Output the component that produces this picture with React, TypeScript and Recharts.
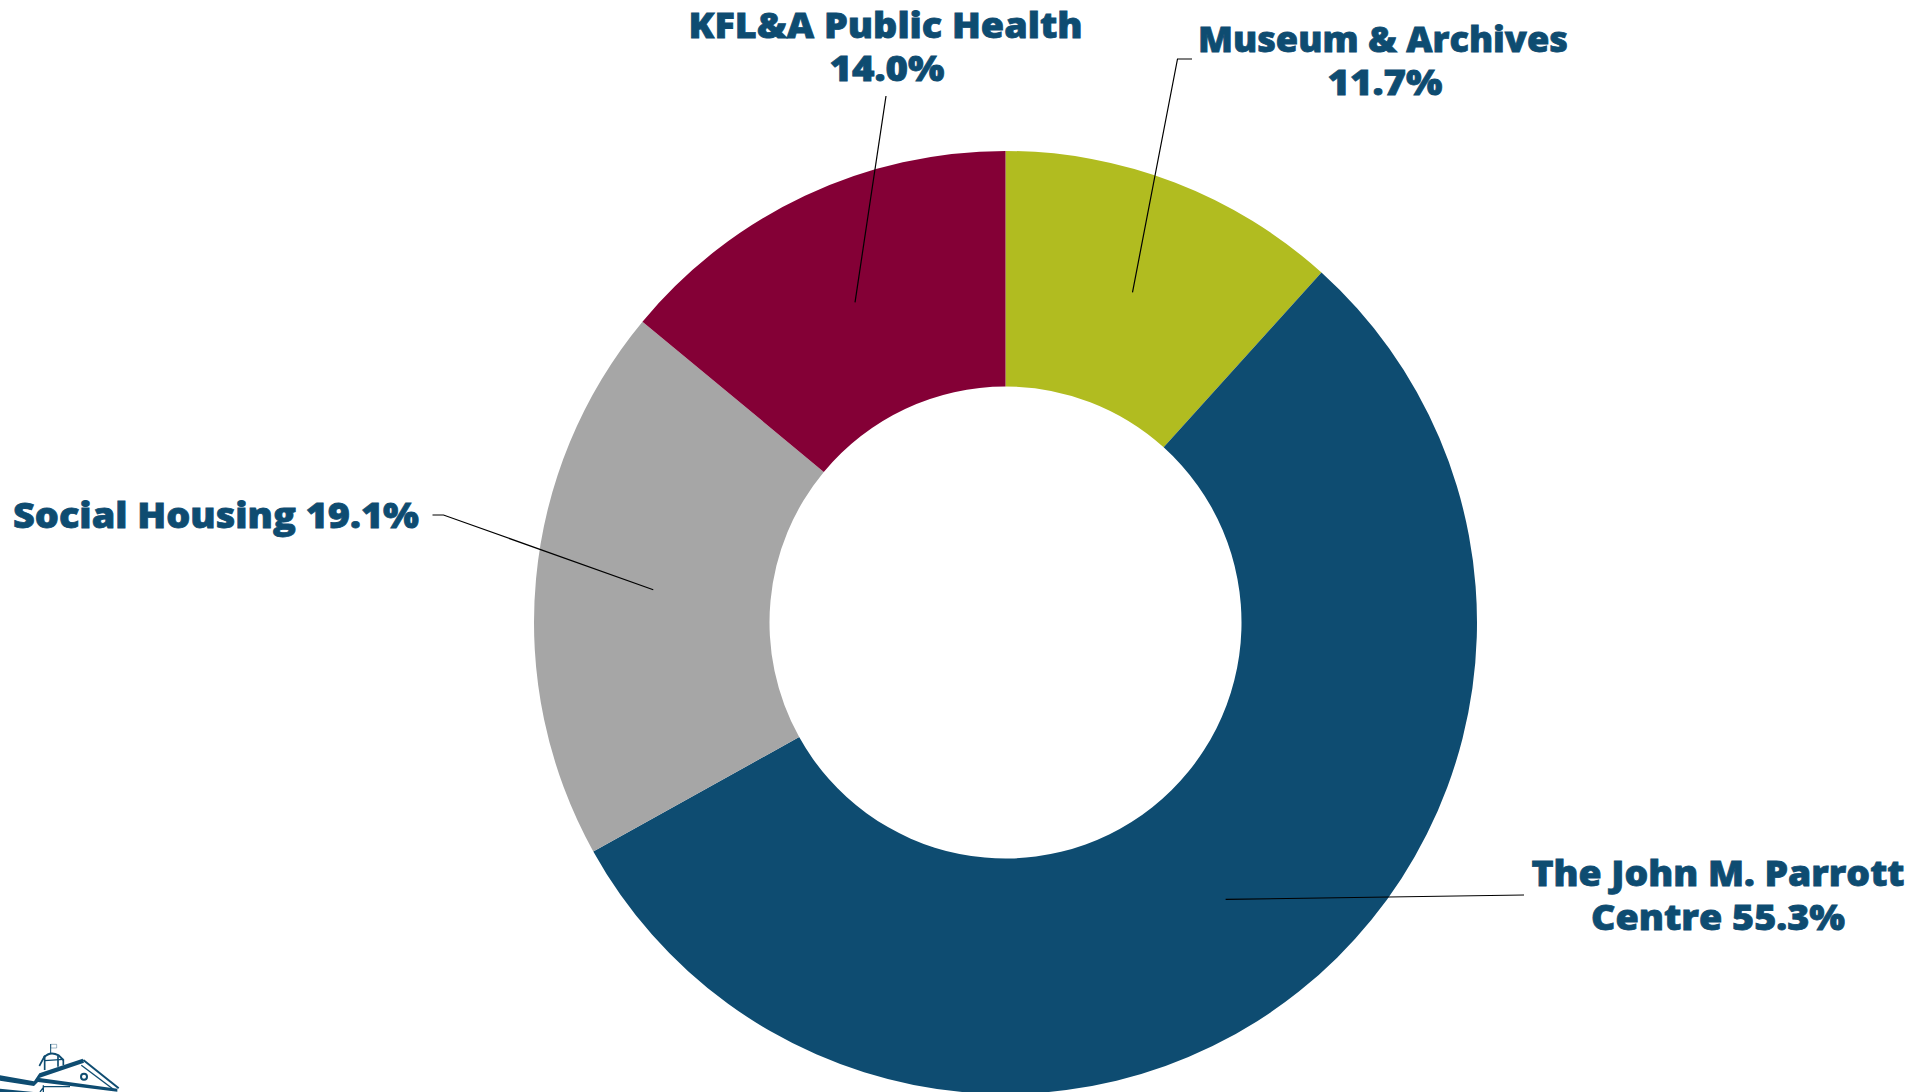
import React from 'react';
import { PieChart, Pie, Cell } from 'recharts';

const categories = ['Museum & Archives', 'The John M. Parrott Centre', 'Social Housing', 'KFL&A Public Health'];
const shares = [11.7, 55.3, 19.1, 14.0];
const colors = ['#B1BC20', '#0E4C71', '#A6A6A6', '#840036'];

const chartData = categories.map((name, i) => ({ name, value: shares[i] }));

const TEXT_COLOR = '#0E4C71';
const FONT = '"Open Sans", sans-serif';

// label text lines and leader routes, one per slice
// width = measured line width in the original, the font here runs a bit narrower
const labelLayouts = [
  {
    lines: [
      { text: 'Museum & Archives', x: 1383, y: 52, width: 370 },
      { text: '11.7%', x: 1385, y: 95, width: 115 },
    ],
    route: [[1177.5, 59], [1192, 59]],
  },
  {
    lines: [
      { text: 'The John M. Parrott', x: 1718, y: 886, width: 373 },
      { text: 'Centre 55.3%', x: 1718, y: 930, width: 254 },
    ],
    route: [[1524, 895]],
  },
  {
    lines: [{ text: 'Social Housing 19.1%', x: 216, y: 528, width: 406 }],
    route: [[443.5, 515], [432.5, 515]],
  },
  {
    lines: [
      { text: 'KFL&A Public Health', x: 885.5, y: 38, width: 394 },
      { text: '14.0%', x: 887, y: 81, width: 115 },
    ],
    route: [[886, 96]],
  },
];

const renderLabel = ({ cx, cy, midAngle, innerRadius, outerRadius, index }: any) => {
  const layout = labelLayouts[index];
  const r = (innerRadius + outerRadius) / 2;
  const rad = (midAngle * Math.PI) / 180;
  const start = [cx + r * Math.cos(rad), cy - r * Math.sin(rad)];
  const points = [start, ...layout.route].map((p) => p.join(',')).join(' ');
  return (
    <g key={index}>
      <polyline points={points} fill="none" stroke="#000" strokeWidth={1.2} />
      <text
        textAnchor="middle"
        fill={TEXT_COLOR}
        stroke={TEXT_COLOR}
        strokeWidth={0.8}
        style={{ fontFamily: FONT, fontWeight: 800, fontSize: 36 }}
      >
        {layout.lines.map((line) => (
          <tspan
            key={line.text}
            x={line.x}
            y={line.y}
            textLength={line.width}
            lengthAdjust="spacingAndGlyphs"
          >
            {line.text}
          </tspan>
        ))}
      </text>
    </g>
  );
};

// small city hall emblem in the bottom left corner
const Emblem = () => (
  <svg
    width={150}
    height={72}
    viewBox="0 0 450 216"
    style={{ position: 'absolute', left: 0, top: 1020 }}
  >
    <g fill="none" stroke={TEXT_COLOR} strokeLinejoin="round">
      <path d="M152 72 V100" strokeWidth={3} />
      <path d="M152 73 H170 V84 H152 Z" strokeWidth={2} opacity={0.6} />
      <path d="M132 112 Q150 92 176 106 L190 120" strokeWidth={6} />
      <path d="M118 138 L134 108 V150 M174 108 V140 M190 118 V136" strokeWidth={5} />
      <path d="M134 122 L190 118" strokeWidth={4} />
      <path d="M250 120 L356 205" strokeWidth={6} />
      <path d="M244 136 L340 208" strokeWidth={4} />
      <path d="M130 196 V216 M120 216 L132 200 H210" strokeWidth={4} />
      <circle cx={252} cy={170} r={9} strokeWidth={6} />
    </g>
    <path d="M0 166 L102 184 L118 160 L248 116 L252 128 L128 170 L118 174 L352 206 L352 215 L114 186 L102 198 L0 182 Z" fill={TEXT_COLOR} />
    <path d="M0 206 L100 216 H0 Z" fill={TEXT_COLOR} />
  </svg>
);

const App = () => (
  <div style={{ position: 'absolute', left: 0, top: 0, width: 1927, height: 1092, overflow: 'hidden', background: '#fff' }}>
    <PieChart width={1927} height={1092} margin={{ top: 0, right: 0, bottom: 0, left: 0 }}>
      <Pie
        data={chartData}
        dataKey="value"
        nameKey="name"
        cx={1005.5}
        cy={622.5}
        innerRadius={236}
        outerRadius={471.5}
        startAngle={90}
        endAngle={-270}
        stroke="none"
        label={renderLabel}
        labelLine={false}
        isAnimationActive={false}
      >
        {chartData.map((entry, i) => (
          <Cell key={entry.name} fill={colors[i]} />
        ))}
      </Pie>
    </PieChart>
    <Emblem />
  </div>
);

export default App;
